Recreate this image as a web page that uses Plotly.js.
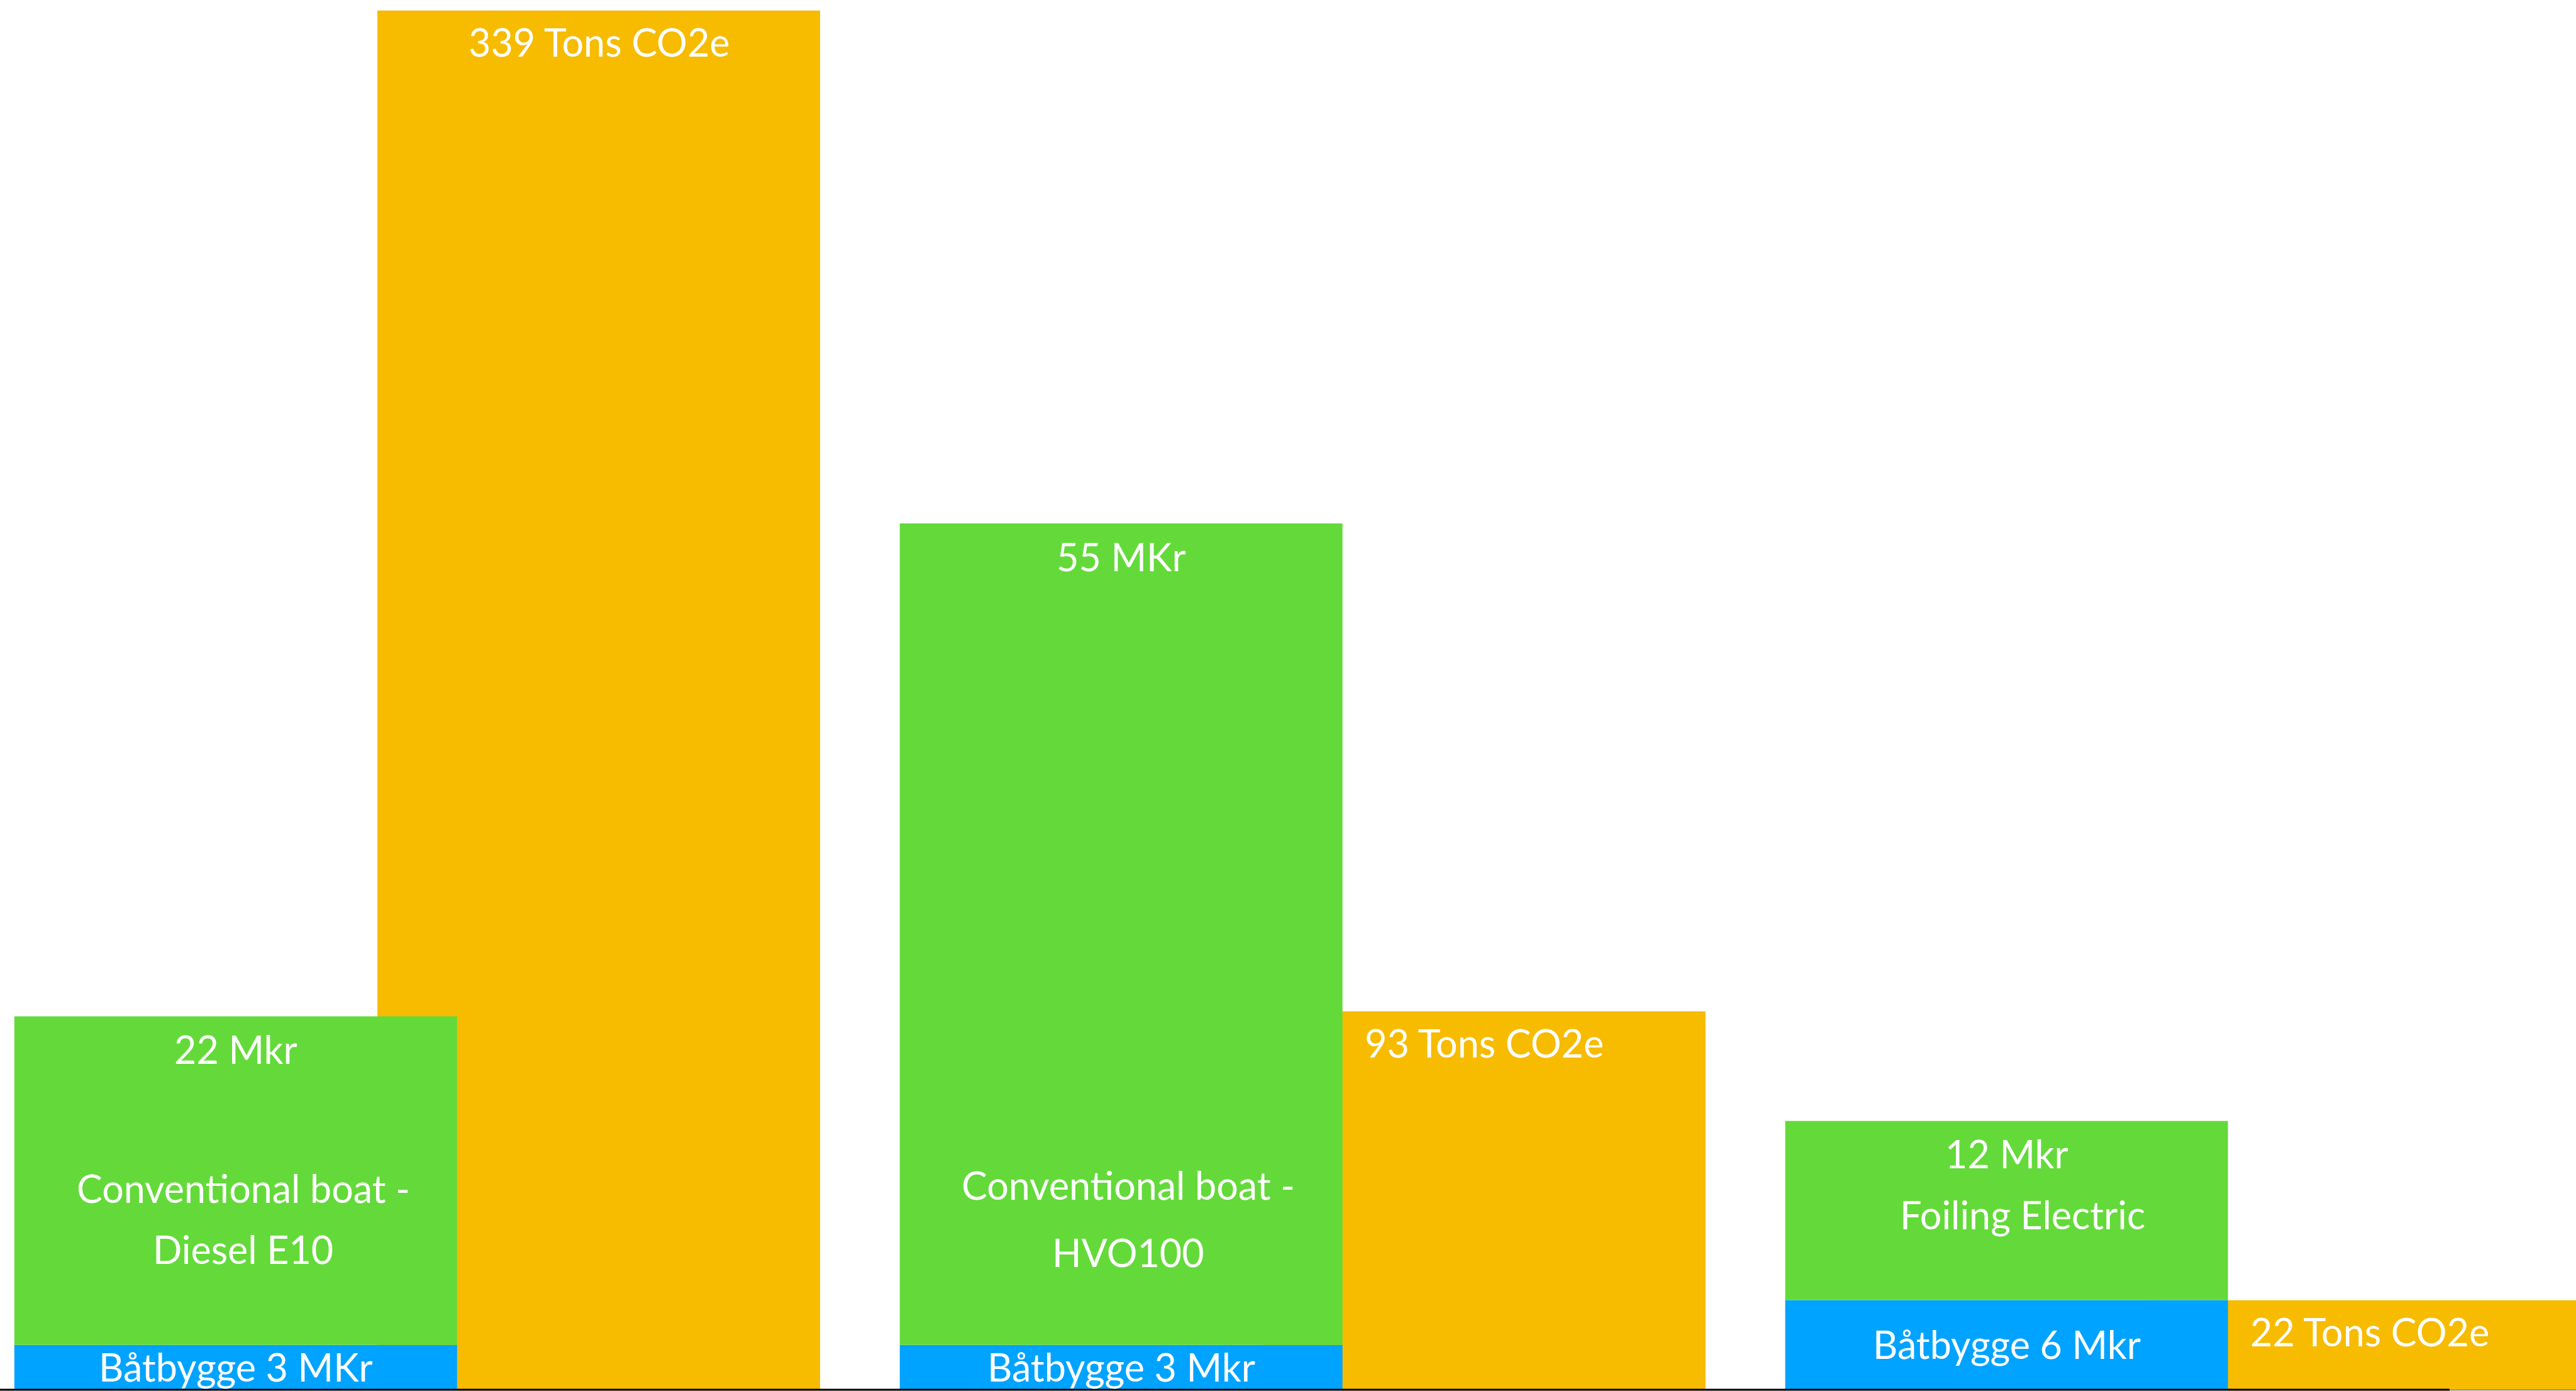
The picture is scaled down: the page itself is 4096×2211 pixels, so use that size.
<!DOCTYPE html>
<html>
<head>
<meta charset="utf-8">
<script src="https://cdn.plot.ly/plotly-3.0.1.min.js"></script>
<style>
  html, body { margin: 0; padding: 0; background: #ffffff; }
  #chart { width: 4096px; height: 2211px; }
</style>
</head>
<body>
<div id="chart"></div>
<script>
// ---- data ----
const categories = ['Conventional boat - Diesel E10', 'Conventional boat - HVO100', 'Foiling Electric'];
const boatBuildMkr = [3, 3, 6];
const operationMkr = [22, 55, 12];
const co2Tons = [339, 93, 22];
const costLabels = ['22 Mkr', '55 MKr', '12 Mkr'];
const buildLabels = ['Båtbygge 3 MKr', 'Båtbygge 3 Mkr', 'Båtbygge 6 Mkr'];
const co2Labels = ['339 Tons CO2e', '93 Tons CO2e', '22 Tons CO2e'];
const nameLines = [['Conventional boat -', 'Diesel E10'], ['Conventional boat -', 'HVO100'], ['Foiling Electric']];

// ---- layout constants ----
const W = 4096, H = 2211;
const marginB = 2;
const plotH = H - marginB;
const GREEN = '#63DA39', ORANGE = '#F7BB00', BLUE = '#00A3FF';
const FONT = 'Lato, "Open Sans", sans-serif';
const FS = 61;
const barW = 0.5;
const co2Shift = 0.41;

const xIdx = categories.map((_, i) => i);
const totals = boatBuildMkr.map((b, i) => b + operationMkr[i]);

const traces = [
  {
    type: 'bar', name: 'CO2e', x: xIdx, y: co2Tons, yaxis: 'y',
    width: barW, offset: co2Shift - barW / 2,
    marker: { color: ORANGE, line: { width: 0 } },
    hoverinfo: 'skip'
  },
  {
    type: 'bar', name: 'Båtbygge', x: xIdx, y: boatBuildMkr, yaxis: 'y2',
    width: barW, offset: -barW / 2,
    marker: { color: BLUE, line: { width: 0 } },
    hoverinfo: 'skip'
  },
  {
    type: 'bar', name: 'Drift', x: xIdx, y: operationMkr, base: boatBuildMkr, yaxis: 'y2',
    width: barW, offset: -barW / 2,
    marker: { color: GREEN, line: { width: 0 } },
    hoverinfo: 'skip'
  }
];

const font = { family: FONT, size: FS, color: '#ffffff' };
const annotations = [];
xIdx.forEach(i => {
  annotations.push({ x: i + co2Shift, xref: 'x', y: co2Tons[i], yref: 'y', text: co2Labels[i],
    showarrow: false, yanchor: 'middle', xanchor: 'center', yshift: -50, font });
  annotations.push({ x: i, xref: 'x', y: totals[i], yref: 'y2', text: costLabels[i],
    showarrow: false, yanchor: 'middle', xanchor: 'center', yshift: -52, font });
  annotations.push({ x: i, xref: 'x', y: boatBuildMkr[i] / 2, yref: 'y2', text: buildLabels[i],
    showarrow: false, yanchor: 'middle', xanchor: 'center', yshift: 1, font });
});

// name label placement (pixel rows of each line, and horizontal nudge)
const namePlace = [
  { rows: [1888, 1985], dx: 12 },
  { rows: [1884, 1990], dx: 11 },
  { rows: [1930], dx: 25 }
];
nameLines.forEach((lines, i) => {
  lines.forEach((t, k) => {
    annotations.push({ x: i, xref: 'x', y: (plotH - namePlace[i].rows[k]) / plotH, yref: 'paper',
      text: t, showarrow: false, yanchor: 'middle', xanchor: 'center', xshift: namePlace[i].dx, font });
  });
});

const layout = {
  width: W, height: H,
  margin: { l: 0, r: 0, t: 0, b: marginB, pad: 0 },
  paper_bgcolor: '#ffffff', plot_bgcolor: '#ffffff',
  barmode: 'overlay',
  showlegend: false,
  xaxis: { range: [-0.2662, 2.6431], showgrid: false, zeroline: false, showticklabels: false,
           showline: true, linecolor: '#555555', linewidth: 1, ticks: '', fixedrange: true },
  yaxis: { range: [0, 341.6], showgrid: false, zeroline: false, showticklabels: false, showline: false, ticks: '' },
  yaxis2: { range: [0, 93.05], overlaying: 'y', side: 'right', showgrid: false, zeroline: false,
            showticklabels: false, showline: false, ticks: '' },
  shapes: [
    { type: 'line', xref: 'paper', yref: 'paper', x0: 0, x1: 3895 / W, y0: 0, y1: 0,
      line: { color: '#000000', width: 3 }, layer: 'above' }
  ],
  annotations
};

Plotly.newPlot('chart', traces, layout, { staticPlot: true, displayModeBar: false });
</script>
</body>
</html>
